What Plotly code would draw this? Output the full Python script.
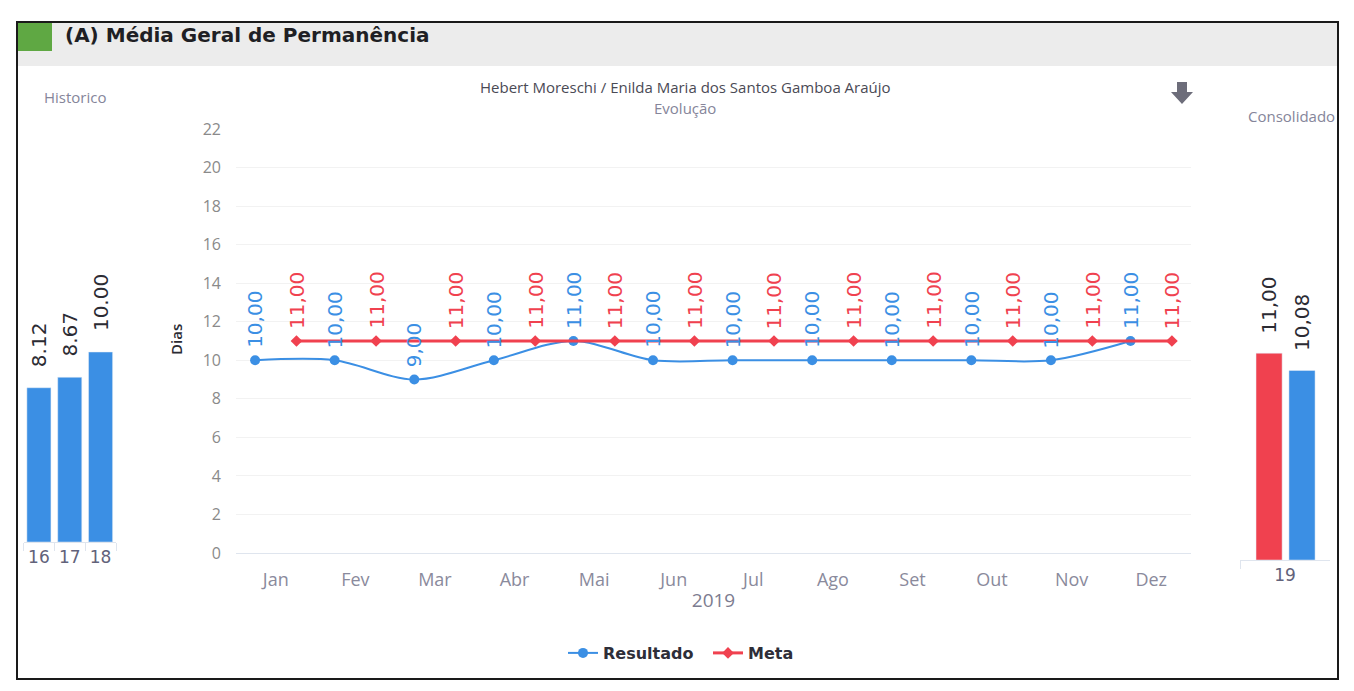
import plotly.graph_objects as go

W, H = 1354, 691
PAGE_OFF = 8  # default body margin of the html page

# ---------------- data ----------------
months = ["Jan", "Fev", "Mar", "Abr", "Mai", "Jun", "Jul", "Ago", "Set", "Out", "Nov", "Dez"]
resultado = [10, 10, 9, 10, 11, 10, 10, 10, 10, 10, 10, 11]
meta = [11, 11, 11, 11, 11, 11, 11, 11, 11, 11, 11, 11]

hist_years = ["16", "17", "18"]
hist_values = [8.12, 8.67, 10.00]

cons_year = ["19"]
cons_meta = [11.00]
cons_resultado = [10.08]

# ---------------- style ----------------
BLUE = "#3b8fe4"
RED = "#f0414f"
DARK = "#2b2b33"
GREY = "#85859a"
LABEL_FONT = "DejaVu Sans"


def px(x):
    return (x - PAGE_OFF) / W


def py(y):
    return 1 - (y - PAGE_OFF) / H


fig = go.Figure()

# Historico bars
hist_idx = list(range(len(hist_years)))
fig.add_trace(go.Bar(x=hist_years, y=hist_values, marker_color=BLUE, width=0.78,
                     xaxis="x", yaxis="y", showlegend=False, hoverinfo="x+y"))

# Main evolution lines (series shifted within each month slot)
SHIFT = 0.26
month_idx = list(range(len(months)))
fig.add_trace(go.Scatter(x=[i - SHIFT for i in month_idx], y=resultado, name="Resultado",
                         mode="lines+markers",
                         line=dict(color=BLUE, width=2, shape="spline", smoothing=0.9),
                         marker=dict(symbol="circle", size=10, color=BLUE),
                         xaxis="x2", yaxis="y2"))
fig.add_trace(go.Scatter(x=[i + SHIFT for i in month_idx], y=meta, name="Meta",
                         mode="lines+markers", line=dict(color=RED, width=3),
                         marker=dict(symbol="diamond", size=9, color=RED),
                         xaxis="x2", yaxis="y2"))

# Consolidado bars
BW = 0.29
OFF_META, OFF_RES = -0.322, 0.044
fig.add_trace(go.Bar(x=cons_year, y=cons_meta, marker_color=RED, width=BW, offset=OFF_META,
                     xaxis="x3", yaxis="y3", showlegend=False))
fig.add_trace(go.Bar(x=cons_year, y=cons_resultado, marker_color=BLUE, width=BW, offset=OFF_RES,
                     xaxis="x3", yaxis="y3", showlegend=False))

annotations = []


def fmt_comma(v):
    return f"{v:.2f}".replace(".", ",")


for i, v in zip(month_idx, resultado):
    annotations.append(dict(x=i - SHIFT, y=v, xref="x2", yref="y2", text=fmt_comma(v),
                            textangle=-90, showarrow=False, yanchor="bottom", yshift=10,
                            font=dict(family=LABEL_FONT, size=20, color=BLUE)))
for i, v in zip(month_idx, meta):
    annotations.append(dict(x=i + SHIFT, y=v, xref="x2", yref="y2", text=fmt_comma(v),
                            textangle=-90, showarrow=False, yanchor="bottom", yshift=10,
                            font=dict(family=LABEL_FONT, size=20, color=RED)))
for i, v in zip(hist_idx, hist_values):
    annotations.append(dict(x=i, y=v, xref="x", yref="y", text=f"{v:.2f}",
                            textangle=-90, showarrow=False, yanchor="bottom", yshift=19,
                            font=dict(family=LABEL_FONT, size=20, color=DARK)))
for v, off in ((cons_meta[0], OFF_META), (cons_resultado[0], OFF_RES)):
    annotations.append(dict(x=off + BW / 2, y=v, xref="x3", yref="y3", text=fmt_comma(v),
                            textangle=-90, showarrow=False, yanchor="bottom", yshift=17,
                            font=dict(family=LABEL_FONT, size=20, color=DARK)))

# static texts
annotations += [
    dict(x=px(63), y=py(35), xref="paper", yref="paper", xanchor="left", yanchor="middle",
         text="(A) Média Geral de Permanência", showarrow=False,
         font=dict(family="DejaVu Sans", size=20, color="#1f1f24", weight="bold")),
    dict(x=px(685), y=py(87), xref="paper", yref="paper", xanchor="center", yanchor="middle",
         text="Hebert Moreschi / Enilda Maria dos Santos Gamboa Araújo", showarrow=False,
         font=dict(family="Open Sans", size=15, color="#4a4a55")),
    dict(x=px(685), y=py(108), xref="paper", yref="paper", xanchor="center", yanchor="middle",
         text="Evolução", showarrow=False, font=dict(family="Open Sans", size=15, color=GREY)),
    dict(x=px(75), y=py(97), xref="paper", yref="paper", xanchor="center", yanchor="middle",
         text="Historico", showarrow=False, font=dict(family="Open Sans", size=15, color=GREY)),
    dict(x=px(1291), y=py(116), xref="paper", yref="paper", xanchor="center", yanchor="middle",
         text="Consolidado", showarrow=False, font=dict(family="Open Sans", size=15, color=GREY)),
    dict(x=px(176), y=py(340), xref="paper", yref="paper", xanchor="center", yanchor="middle",
         text="Dias", textangle=-90, showarrow=False,
         font=dict(family="Open Sans", size=15, color=DARK, weight=600)),
]

# arrow icon path (pixel coords -> paper)
ax, ay = 1182, 93
arrow_pts = [(ax - 5, ay - 11), (ax + 5, ay - 11), (ax + 5, ay - 1), (ax + 11, ay - 1),
             (ax, ay + 11), (ax - 11, ay - 1), (ax - 5, ay - 1)]
arrow_path = "M " + " L ".join(f"{px(x):.5f},{py(y):.5f}" for x, y in arrow_pts) + " Z"

shapes = [
    dict(type="rect", xref="paper", yref="paper", x0=px(17), x1=px(1338), y0=py(22), y1=py(66),
         fillcolor="#ececec", line=dict(width=0), layer="below"),
    dict(type="rect", xref="paper", yref="paper", x0=px(17), x1=px(52), y0=py(22), y1=py(51),
         fillcolor="#5fa843", line=dict(width=0), layer="below"),
    dict(type="rect", xref="paper", yref="paper", x0=px(17), x1=px(1338), y0=py(22), y1=py(679),
         fillcolor="rgba(0,0,0,0)", line=dict(color="#1a1a1a", width=2)),
    dict(type="path", xref="paper", yref="paper", path=arrow_path,
         fillcolor="#6d6d7a", line=dict(width=0)),
]

AXLINE = "#dfe5ee"
fig.update_layout(
    width=W, height=H,
    margin=dict(l=0, r=0, t=0, b=0, autoexpand=False),
    paper_bgcolor="white", plot_bgcolor="white",
    font=dict(family="Open Sans", color=GREY),
    showlegend=True,
    legend=dict(orientation="h", x=px(563), xanchor="left", y=py(653), yanchor="middle",
                entrywidth=100, entrywidthmode="pixels",
                font=dict(family="DejaVu Sans", size=16, color="#2e2e38", weight="bold"),
                bgcolor="rgba(0,0,0,0)"),
    annotations=annotations,
    shapes=shapes,
    xaxis=dict(domain=[px(23.5), px(116)], type="category", range=[-0.5, 2.5],
               showline=True, linecolor=AXLINE, automargin=False,
               ticks="outside", tickson="boundaries", ticklen=8, tickcolor=AXLINE,
               tickfont=dict(size=17, color="#62627a", family="DejaVu Sans"), showgrid=False,
               tickangle=0, fixedrange=True),
    yaxis=dict(domain=[py(542), py(314)], range=[0, 12], visible=False, fixedrange=True,
               automargin=False),
    xaxis2=dict(domain=[px(236), px(1191)], range=[-0.5, 11.5], tickvals=month_idx, ticktext=months,
                showline=True, linecolor=AXLINE, showgrid=False, zeroline=False, automargin=False,
                ticks="outside", ticklen=10, tickcolor="rgba(0,0,0,0)", tickangle=0,
                tickfont=dict(size=18, color="#8a8a9c"),
                title=dict(text="2019", font=dict(size=19, color="#7c7c90"), standoff=4),
                anchor="y2", fixedrange=True),
    yaxis2=dict(domain=[py(553), py(129)], range=[0, 22], dtick=2, gridcolor="#f2f2f2",
                zeroline=False, tickfont=dict(size=16, color="#8a8a8a"), ticklabelstandoff=14,
                anchor="x2", fixedrange=True, automargin=False),
    xaxis3=dict(domain=[px(1240), px(1330)], type="category", range=[-0.5, 0.5],
                showline=True, linecolor=AXLINE, automargin=False,
                ticks="outside", tickson="boundaries", ticklen=8, tickcolor=AXLINE,
                tickfont=dict(size=17, color="#62627a", family="DejaVu Sans"), showgrid=False,
                tickangle=0, anchor="y3", fixedrange=True),
    yaxis3=dict(domain=[py(560), py(334.4)], range=[0, 12], visible=False, anchor="x3",
                fixedrange=True, automargin=False),
)

fig.write_html("out.html")
